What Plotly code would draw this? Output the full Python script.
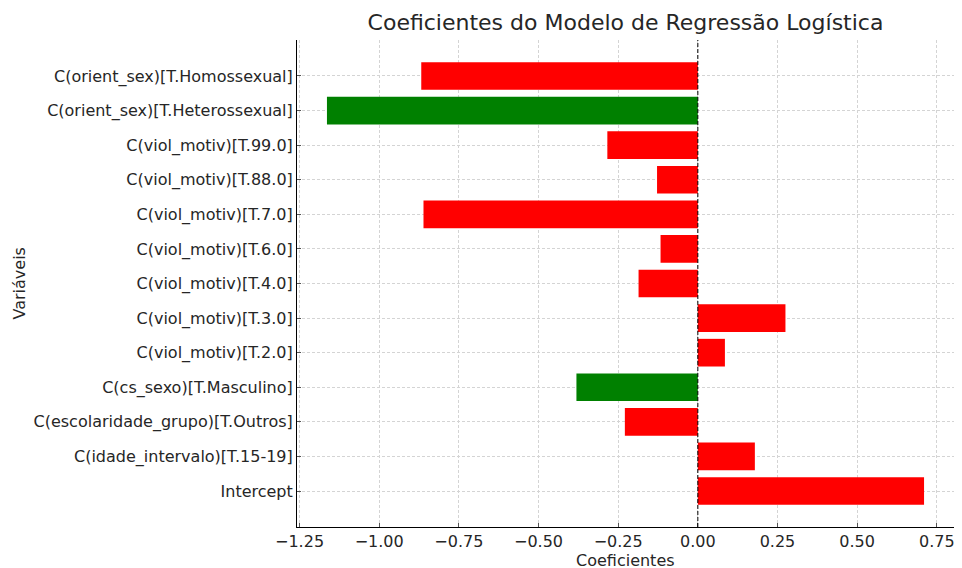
import plotly.graph_objects as go

variables = [
    "Intercept",
    "C(idade_intervalo)[T.15-19]",
    "C(escolaridade_grupo)[T.Outros]",
    "C(cs_sexo)[T.Masculino]",
    "C(viol_motiv)[T.2.0]",
    "C(viol_motiv)[T.3.0]",
    "C(viol_motiv)[T.4.0]",
    "C(viol_motiv)[T.6.0]",
    "C(viol_motiv)[T.7.0]",
    "C(viol_motiv)[T.88.0]",
    "C(viol_motiv)[T.99.0]",
    "C(orient_sex)[T.Heterossexual]",
    "C(orient_sex)[T.Homossexual]",
]
coeficientes = [0.710, 0.179, -0.229, -0.381, 0.085, 0.275, -0.186, -0.117,
                -0.861, -0.128, -0.284, -1.164, -0.868]
significativo = [False, False, False, True, False, False, False, False,
                 False, False, False, True, False]
x_ticks = [-1.25, -1.0, -0.75, -0.5, -0.25, 0.0, 0.25, 0.5, 0.75]

colors = ["#008000" if s else "#ff0000" for s in significativo]

fig = go.Figure()
fig.add_trace(go.Bar(
    x=coeficientes, y=variables, orientation="h",
    marker=dict(color=colors, line=dict(width=0)),
    width=0.8,
))

fig.add_shape(type="line", x0=0, x1=0, xref="x", y0=0, y1=1, yref="paper",
              line=dict(color="black", width=1, dash="4px,2px"))

font = "DejaVu Sans, sans-serif"
W, H = 946, 560
L, R, T, B = 289, 0, 32, 41
pw, ph = W - L - R, H - T - B

fig.update_layout(
    width=W, height=H,
    margin=dict(l=L, r=R, t=T, b=B, autoexpand=False),
    plot_bgcolor="white", paper_bgcolor="white",
    showlegend=False,
    font=dict(family=font, color="#262626", size=16),
    title=dict(text="Coeficientes do Modelo de Regressão Logística",
               x=(L + pw / 2) / W, xanchor="center",
               y=1 - 14 / H, yanchor="middle",
               font=dict(size=22, family=font, color="#262626")),
    annotations=[
        dict(text="Coeficientes", xref="paper", yref="paper",
             x=0.5, y=-33 / ph, xanchor="center", yanchor="middle",
             showarrow=False, font=dict(size=16, family=font, color="#262626")),
        dict(text="Variáveis", xref="paper", yref="paper",
             x=(11 - L) / pw, y=0.5, xanchor="center", yanchor="middle",
             textangle=-90, showarrow=False,
             font=dict(size=16, family=font, color="#262626")),
    ],
)
fig.update_xaxes(
    range=[-1.258, 0.804],
    tickvals=x_ticks,
    tickformat=".2f",
    ticklabeloverflow="allow",
    showgrid=True, gridcolor="#d4d4d4", griddash="3px,2px", gridwidth=1,
    zeroline=False,
    showline=True, linecolor="black", linewidth=1,
    ticks="inside", ticklen=4, tickcolor="#555555",
    tickfont=dict(size=16),
)
fig.update_yaxes(
    type="category",
    range=[-1.04, 13.04],
    showgrid=True, gridcolor="#d4d4d4", griddash="3px,2px", gridwidth=1,
    showline=True, linecolor="black", linewidth=1,
    ticks="inside", ticklen=4, tickcolor="#555555",
    tickfont=dict(size=16),
)

fig.write_html("out.html")
